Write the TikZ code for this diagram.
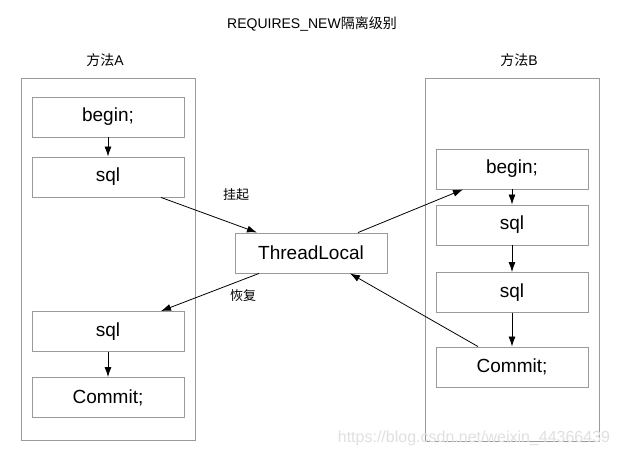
\documentclass[tikz,border=0pt]{standalone}
\usepackage{fontspec}
\setmainfont{Liberation Sans}
\newfontfamily\cjk{Noto Sans CJK SC}
\usetikzlibrary{arrows.meta}
\definecolor{boxgray}{HTML}{9A9A9A}
\definecolor{wmgray}{HTML}{E0E0E0}
\begin{document}
\begin{tikzpicture}[x=1pt,y=-1pt,
  stepbox/.style={draw=boxgray,line width=0.9pt,minimum width=152pt,minimum height=40pt,inner sep=0pt,font=\fontsize{19}{21}\selectfont},
  outerbox/.style={draw=boxgray,line width=0.9pt,minimum width=174pt,inner sep=0pt},
  arr/.style={draw=black,line width=0.8pt,-{Latex[length=10pt,width=7pt]}},
  lbl/.style={font=\fontsize{13}{15}\selectfont\cjk,inner sep=0pt},
  ttl/.style={font=\fontsize{14}{16}\selectfont,inner sep=0pt}]
\useasboundingbox (0,0) rectangle (619,457);
\fill[white] (0,0) rectangle (619,457);
% outer boxes
\node[outerbox,minimum height=362pt] (outerA) at (108,259) {};
\node[outerbox,minimum height=363pt] (outerB) at (512,259.5) {};
% titles
\node[ttl] (title) at (312,24) {REQUIRES\_NEW{\cjk 隔离级别}};
\node[ttl] (methA) at (105,60) {{\cjk 方法}A};
\node[ttl] (methB) at (519,60) {{\cjk 方法}B};
% method A
\node[stepbox] (beginA) at (108,117) {begin;};
\node[stepbox] (sqlA) at (108,177) {sql};
\node[stepbox] (sqlAA) at (108,331.5) {sql};
\node[stepbox] (commitA) at (108,397.5) {Commit;};
% method B
\node[stepbox] (beginB) at (512,169) {begin;};
\node[stepbox] (sqlB) at (512,225) {sql};
\node[stepbox] (sqlBB) at (512,292.5) {sql};
\node[stepbox] (commitB) at (512,367) {Commit;};
% thread local
\node[stepbox] (tl) at (311,253) {ThreadLocal};
% inner arrows
\draw[arr] (beginA) -- (sqlA);
\draw[arr] (sqlAA) -- (commitA);
\draw[arr] (beginB) -- (sqlB);
\draw[arr] (sqlB) -- (sqlBB);
\draw[arr] (sqlBB) -- (commitB);
% cross arrows
\draw[arr] ([xshift=53pt]sqlA.south) -- ([xshift=-54pt]tl.north);
\draw[arr] ([xshift=47pt]tl.north) -- ([xshift=-49pt]beginB.south);
\draw[arr] ([xshift=-52pt]tl.south) -- ([xshift=53pt]sqlAA.north);
\draw[arr] ([xshift=-34pt]commitB.north) -- ([xshift=39pt]tl.south);
% labels
\node[lbl] (lblSuspend) at (236,195) {挂起};
\node[lbl] (lblResume) at (243,296) {恢复};
% watermark
\node[font=\fontsize{16}{18}\selectfont,text=wmgray,inner sep=0pt] (wm) at (474,438) {https://blog.csdn.net/weixin\_44366439};
\end{tikzpicture}
\end{document}
